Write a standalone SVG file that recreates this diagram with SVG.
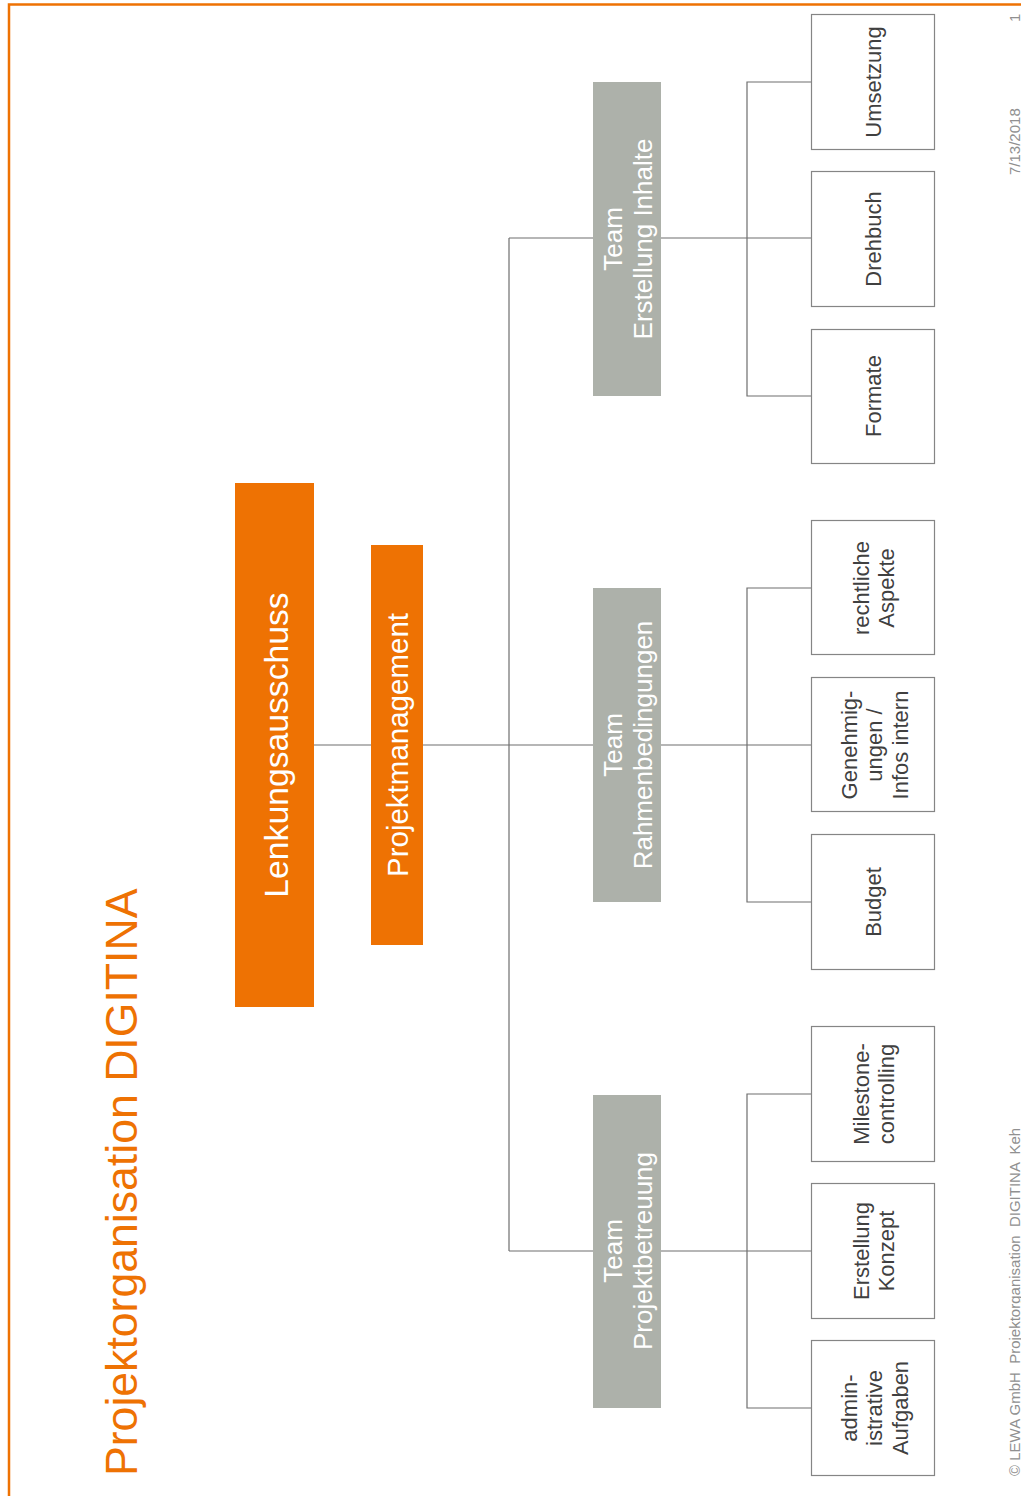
<svg xmlns="http://www.w3.org/2000/svg" width="1021" height="1496" viewBox="0 0 1021 1496">
<style>
.t{font-family:"Liberation Sans",Arial,sans-serif;text-anchor:middle}
.orange{fill:#EE7203}
.team{fill:#ADB1AA}
.leaf{fill:#FFFFFF;stroke:#858585;stroke-width:1.2}
.lt{font-size:22px;fill:#404040}
.tt{font-size:26px;fill:#FFFFFF}
.ln{stroke:#6E6E6E;stroke-width:1.2;fill:none}
.ft{font-family:"Liberation Sans",Arial,sans-serif;font-size:15px;fill:#909090}
</style>
<rect width="1021" height="1496" fill="#FFFFFF"/>
<g id="frame">
<path d="M9 1496 V4.5 H1021" fill="none" stroke="#EE7203" stroke-width="2.5"/>
</g>
<g id="title">
<text transform="translate(137,1476) rotate(-90)" style="font-family:'Liberation Sans',Arial,sans-serif;font-size:44.6px;fill:#EE7203">Projektorganisation DIGITINA</text>
</g>
<g id="connectors">
<path class="ln" d="M314 745 H593"/>
<path class="ln" d="M509 238 V1251"/>
<path class="ln" d="M509 238 H593 M509 1251 H593"/>
<path class="ln" d="M661 238 H811 M661 745 H811 M661 1251 H811"/>
<path class="ln" d="M811 82 H747 V396 H811"/>
<path class="ln" d="M811 588 H747 V902 H811"/>
<path class="ln" d="M811 1094 H747 V1408 H811"/>
</g>
<g id="lenkungsausschuss">
<rect class="orange" x="235" y="483" width="79" height="524"/>
<text class="t" transform="translate(274.5,745) rotate(-90)" y="13" style="font-size:33.7px;fill:#FFFFFF">Lenkungsausschuss</text>
</g>
<g id="projektmanagement">
<rect class="orange" x="371" y="545" width="52" height="400"/>
<text class="t" transform="translate(397,745) rotate(-90)" y="10.5" style="font-size:29.5px;fill:#FFFFFF">Projektmanagement</text>
</g>
<g id="team-inhalte">
<rect class="team" x="593" y="82" width="68" height="314"/>
<text class="t tt" transform="translate(627,239) rotate(-90)"><tspan x="0" y="-5">Team</tspan><tspan x="0" y="25">Erstellung Inhalte</tspan></text>
</g>
<g id="team-rahmen">
<rect class="team" x="593" y="588" width="68" height="314"/>
<text class="t tt" transform="translate(627,745) rotate(-90)"><tspan x="0" y="-5">Team</tspan><tspan x="0" y="25">Rahmenbedingungen</tspan></text>
</g>
<g id="team-betreuung">
<rect class="team" x="593" y="1095" width="68" height="313"/>
<text class="t tt" transform="translate(627,1251) rotate(-90)"><tspan x="0" y="-5">Team</tspan><tspan x="0" y="25">Projektbetreuung</tspan></text>
</g>
<g id="umsetzung">
<rect class="leaf" x="811.5" y="14.5" width="123" height="135"/>
<text class="t lt" transform="translate(873,82) rotate(-90)" y="8">Umsetzung</text>
</g>
<g id="drehbuch">
<rect class="leaf" x="811.5" y="171.5" width="123" height="135"/>
<text class="t lt" transform="translate(873,239) rotate(-90)" y="8">Drehbuch</text>
</g>
<g id="formate">
<rect class="leaf" x="811.5" y="329.5" width="123" height="134"/>
<text class="t lt" transform="translate(873,396) rotate(-90)" y="8">Formate</text>
</g>
<g id="rechtliche">
<rect class="leaf" x="811.5" y="520.5" width="123" height="134"/>
<text class="t lt" transform="translate(873,588) rotate(-90)"><tspan x="0" y="-4">rechtliche</tspan><tspan x="0" y="21">Aspekte</tspan></text>
</g>
<g id="genehmigungen">
<rect class="leaf" x="811.5" y="677.5" width="123" height="134"/>
<text class="t lt" transform="translate(873,745) rotate(-90)"><tspan x="0" y="-16">Genehmig-</tspan><tspan x="0" y="9">ungen /</tspan><tspan x="0" y="35">Infos intern</tspan></text>
</g>
<g id="budget">
<rect class="leaf" x="811.5" y="834.5" width="123" height="135"/>
<text class="t lt" transform="translate(873,902) rotate(-90)" y="8">Budget</text>
</g>
<g id="milestone">
<rect class="leaf" x="811.5" y="1026.5" width="123" height="135"/>
<text class="t lt" transform="translate(873,1094) rotate(-90)"><tspan x="0" y="-4">Milestone-</tspan><tspan x="0" y="21">controlling</tspan></text>
</g>
<g id="konzept">
<rect class="leaf" x="811.5" y="1183.5" width="123" height="135"/>
<text class="t lt" transform="translate(873,1251) rotate(-90)"><tspan x="0" y="-4">Erstellung</tspan><tspan x="0" y="21">Konzept</tspan></text>
</g>
<g id="administrative">
<rect class="leaf" x="811.5" y="1340.5" width="123" height="135"/>
<text class="t lt" transform="translate(873,1408) rotate(-90)"><tspan x="0" y="-16">admin-</tspan><tspan x="0" y="9">istrative</tspan><tspan x="0" y="35">Aufgaben</tspan></text>
</g>
<g id="footer">
<text class="ft" transform="translate(1019.5,1476) rotate(-90)" xml:space="preserve">© LEWA GmbH  Projektorganisation  DIGITINA  Keh</text>
<text class="ft" transform="translate(1019.5,175) rotate(-90)">7/13/2018</text>
<text class="ft" transform="translate(1019.5,22) rotate(-90)">1</text>
</g>
</svg>
